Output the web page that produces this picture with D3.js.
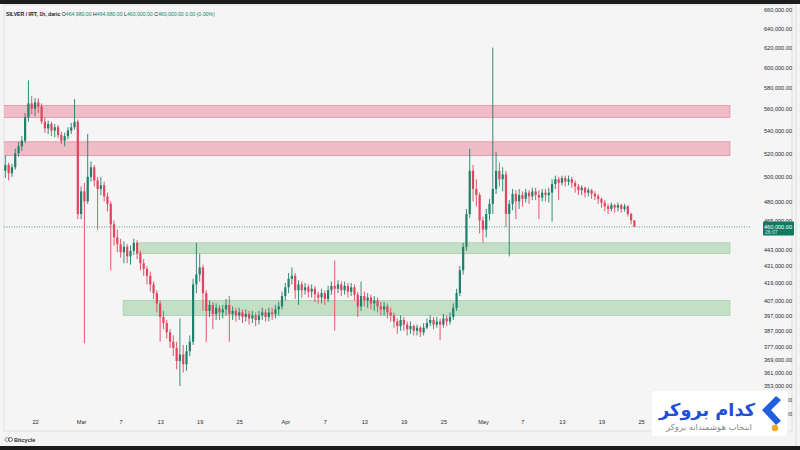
<!DOCTYPE html>
<html>
<head>
<meta charset="utf-8">
<script src="https://cdn.jsdelivr.net/npm/d3@7"></script>
<style>
  html, body { margin: 0; padding: 0; background: #f4f4f4; }
  svg { display: block; font-family: "Liberation Sans", Arial, sans-serif; }
</style>
</head>
<body>
<div id="chart"></div>
<script>
// SILVER / IRT, 12h candles, prices in thousands of IRT
const startDate = new Date(2025, 1, 17, 12);
const stepHours = 12;

const opens = [
  505,510,503,508,520,526,531,552,565,560, 566,562,548,542,546,540,543,536,531,535,
  540,543,548,470,488,480,500,508,497,490, 493,484,478,462,452,447,441,445,438,442,
  448,440,433,429,424,418,412,405,396,392, 386,380,376,368,372,366,374,380,418,425,
  430,412,400,404,398,402,399,401,404,398, 400,397,399,396,398,395,397,394,397,399,
  396,399,398,401,403,410,416,422,424,414, 418,414,416,413,415,411,409,412,408,414,
  417,415,418,414,417,413,416,411,403,410, 407,409,405,407,403,401,403,399,397,393,
  390,394,391,388,390,387,389,386,389,392, 394,391,393,391,395,393,396,402,412,428,
  445,470,505,490,485,465,458,470,478,490, 505,498,502,470,478,486,480,485,482,487,
  484,488,485,483,487,485,487,494,498,495, 499,496,498,495,492,489,491,487,489,486,
  484,482,479,476,474,477,475,477,474,476, 470,464.98
];
const highs = [
  518,512,511,524,530,535,556,587,572,570, 570,565,552,549,548,546,545,539,538,543,
  547,569,550,492,495,537,513,510,500,500, 496,487,480,465,458,451,449,447,446,451,
  450,442,436,431,427,420,414,407,400,394, 388,384,380,395,378,378,384,422,448,440,
  432,414,407,406,405,404,404,408,410,403, 402,402,401,401,400,400,399,400,402,401,
  402,402,404,406,413,419,426,430,426,421, 420,419,418,418,417,413,415,414,417,420,
  435,421,420,420,419,419,418,413,420,413, 412,411,410,409,406,406,405,402,399,395,
  397,396,393,393,391,391,390,392,395,397, 396,396,395,398,397,399,405,415,431,448,
  474,524,510,498,487,468,474,482,620,521, 512,508,505,481,490,489,490,488,490,489,
  491,491,489,490,490,491,498,501,500,501, 501,501,500,497,494,493,492,491,490,488,
  486,483,481,478,479,478,479,478,478,477, 471,464.98
];
const lows = [
  499,497,500,506,517,522,529,548,555,553, 556,546,538,537,535,534,533,528,526,532,
  537,541,466,466,379,478,496,492,458,485, 480,472,428,446,441,437,433,433,432,439,
  436,428,424,418,413,408,399,380,388,382, 376,371,363,353,361,362,371,378,412,420,
  400,380,396,388,394,394,395,397,380,394, 393,394,392,393,391,392,390,391,394,393,
  393,394,395,397,401,407,412,418,408,404, 409,411,409,409,406,405,405,404,406,411,
  387,412,410,411,409,410,407,396,400,403, 402,401,400,399,397,397,395,393,389,385,
  387,387,384,385,384,384,383,384,388,390, 388,389,381,389,390,391,394,400,410,425,
  442,467,480,476,455,448,452,465,470,486, 492,488,460,438,473,466,474,476,479,478,
  481,481,466,480,480,479,464,490,481,493, 492,493,491,487,485,485,483,484,482,481,
  478,475,472,470,472,471,472,471,472,468, 462,460
];
const closes = [
  510,503,508,520,526,531,552,565,560,566, 562,548,542,546,540,543,536,531,535,540,
  543,548,470,488,480,500,508,497,490,493, 484,478,462,452,447,441,445,438,442,448,
  440,433,429,424,418,412,405,396,392,386, 380,376,368,372,366,374,380,418,425,430,
  412,400,404,398,402,399,401,404,398,400, 397,399,396,398,395,397,394,397,399,396,
  399,398,401,403,410,416,422,424,414,418, 414,416,413,415,411,409,412,408,414,417,
  415,418,414,417,413,416,411,403,410,407, 409,405,407,403,401,403,399,397,393,390,
  394,391,388,390,387,389,386,389,392,394, 391,393,391,395,393,396,402,412,428,445,
  470,505,490,485,465,458,470,478,490,505, 498,502,470,478,486,480,485,482,487,484,
  488,485,483,487,485,487,494,498,495,499, 496,498,495,492,489,491,487,489,486,484,
  482,479,476,474,477,475,477,474,476,470, 465,460
];

// support / resistance zones (thousands)
const zoneLow   = [552, 518, 440, 397];
const zoneHigh  = [563, 530, 448, 407];
const zoneStart = [new Date(2025,1,16), new Date(2025,1,16), new Date(2025,2,9,12), new Date(2025,2,7,9)];
const zoneEnd   = new Date(2025,5,7,12);
const zoneKind  = ["res", "res", "sup", "sup"];

const priceTicks = [660,640,620,600,580,560,540,520,500,480,465,443,431,419,407,397,387,377,369,361,353,345,337];
const dateTicks = [
  new Date(2025,1,22), new Date(2025,2,1), new Date(2025,2,7), new Date(2025,2,13), new Date(2025,2,19),
  new Date(2025,2,25), new Date(2025,3,1), new Date(2025,3,7), new Date(2025,3,13), new Date(2025,3,19),
  new Date(2025,3,25), new Date(2025,4,1), new Date(2025,4,7), new Date(2025,4,13), new Date(2025,4,19),
  new Date(2025,4,25)
];
const lastPrice = 460;

const width = 800, height = 450;
const pane = {left: 4, right: 750, top: 5, bottom: 431};
const upColor = "#1f806b", downColor = "#e4445e";

const candles = closes.map(function(c, i) {
  return {
    date: new Date(startDate.getTime() + i * stepHours * 3600 * 1000),
    o: opens[i] * 1000, h: highs[i] * 1000, l: lows[i] * 1000, c: c * 1000
  };
});

// shrink a text so it spans a given width
function fitText(sel, target) {
  const len = sel.node().getComputedTextLength();
  const fs = parseFloat(sel.attr("font-size"));
  if (len > 0) sel.attr("font-size", fs * target / len);
}

const svg = d3.select("#chart").append("svg")
  .attr("width", width).attr("height", height);

// frame
svg.append("rect").attr("x", 0).attr("y", 0).attr("width", width).attr("height", height).attr("fill", "#f4f4f4");
svg.append("rect").attr("x", 0).attr("y", 0).attr("width", width).attr("height", 4).attr("fill", "#1c1c1c");
svg.append("rect").attr("x", 0).attr("y", 446).attr("width", width).attr("height", 4).attr("fill", "#1c1c1c");
svg.append("rect")
  .attr("x", pane.left).attr("y", pane.top)
  .attr("width", 792 - pane.left).attr("height", pane.bottom - pane.top)
  .attr("fill", "#f5f5f5").attr("stroke", "#dcdcdc").attr("stroke-width", 0.8);
svg.append("line").attr("x1", 796).attr("x2", 796).attr("y1", 4).attr("y2", 446)
  .attr("stroke", "#d8d8d8").attr("stroke-width", 0.8);

// scales
const x = d3.scaleTime()
  .domain([new Date(2025,1,22), new Date(2025,4,25)])
  .range([35, 641]);

const y = d3.scaleLog()
  .domain([353000, 660000])
  .range([386, 10]);

svg.append("clipPath").attr("id", "clip")
  .append("rect").attr("x", pane.left).attr("y", pane.top)
  .attr("width", pane.right - pane.left).attr("height", pane.bottom - pane.top);

const plot = svg.append("g").attr("clip-path", "url(#clip)");

// zones
zoneLow.forEach(function(lo, i) {
  const res = zoneKind[i] === "res";
  plot.append("rect")
    .attr("x", x(zoneStart[i]))
    .attr("y", y(zoneHigh[i] * 1000))
    .attr("width", x(zoneEnd) - x(zoneStart[i]))
    .attr("height", y(lo * 1000) - y(zoneHigh[i] * 1000))
    .attr("fill", res ? "#efbcc8" : "#c3dfc5")
    .attr("stroke", res ? "#de8fa2" : "#a8cfac")
    .attr("stroke-width", 0.8);
});

// last price line
plot.append("line")
  .attr("x1", pane.left).attr("x2", pane.right + 14)
  .attr("y1", y(lastPrice * 1000)).attr("y2", y(lastPrice * 1000))
  .attr("stroke", "#1b8a72").attr("stroke-width", 0.8)
  .attr("stroke-dasharray", "1,1.5");

// candles
const cg = plot.selectAll(".candle").data(candles).enter().append("g").attr("class", "candle");

cg.append("line")
  .attr("x1", function(d) { return x(d.date); })
  .attr("x2", function(d) { return x(d.date); })
  .attr("y1", function(d) { return y(d.h); })
  .attr("y2", function(d) { return y(d.l); })
  .attr("stroke", function(d) { return d.c >= d.o ? upColor : downColor; })
  .attr("stroke-width", 0.9);

cg.append("rect")
  .attr("x", function(d) { return x(d.date) - 1.1; })
  .attr("width", 2.2)
  .attr("y", function(d) { return y(Math.max(d.o, d.c)); })
  .attr("height", function(d) { return Math.max(0.8, Math.abs(y(d.o) - y(d.c))); })
  .attr("fill", function(d) { return d.c >= d.o ? upColor : downColor; });

// price axis
const yAxis = svg.append("g")
  .attr("transform", "translate(792,0)")
  .call(d3.axisRight(y).tickValues(priceTicks.map(function(v) { return v * 1000; }))
    .tickSize(0).tickFormat(d3.format(",.2f")));
yAxis.select(".domain").remove();
yAxis.selectAll("text")
  .attr("x", 0).attr("text-anchor", "end")
  .attr("font-size", 5.6).attr("fill", "#2a2a2a")
  .attr("font-family", "Liberation Sans, Arial, sans-serif");

// time axis
const monthNames = ["Jan","Feb","Mar","Apr","May","Jun"];
const xAxis = svg.append("g")
  .attr("transform", "translate(0,421)")
  .call(d3.axisBottom(x).tickValues(dateTicks).tickSize(0)
    .tickFormat(function(d) { return d.getDate() === 1 ? monthNames[d.getMonth()] : d.getDate(); }));
xAxis.select(".domain").remove();
xAxis.selectAll("text")
  .attr("font-size", 5.6).attr("fill", "#2a2a2a").attr("dy", 0)
  .attr("font-family", "Liberation Sans, Arial, sans-serif");

// last price tag
const tagY = y(lastPrice * 1000);
svg.append("rect").attr("x", 763).attr("y", tagY - 5.5).attr("width", 31).attr("height", 14)
  .attr("fill", "#0f7a62").attr("rx", 1);
svg.append("text").attr("x", 792).attr("y", tagY + 2).attr("text-anchor", "end")
  .attr("font-size", 5.6).attr("fill", "#ffffff").text(d3.format(",.2f")(lastPrice * 1000));
svg.append("text").attr("x", 765).attr("y", tagY + 7.5)
  .attr("font-size", 5).attr("fill", "#cfe9e2").text("26:07");

// header legend
const head = svg.append("text").attr("x", 6).attr("y", 16)
  .attr("font-size", 6).attr("fill", "#222");
head.append("tspan").attr("font-weight", "bold").text("SILVER / IRT, 1h, daric  ");
const ohlc = [["O", opens[opens.length - 1]], ["H", highs[highs.length - 1]], ["L", lows[lows.length - 1]], ["C", closes[closes.length - 1]]];
ohlc.forEach(function(p) {
  head.append("tspan").attr("fill", "#222").text(p[0]);
  head.append("tspan").attr("fill", "#10896f").text(d3.format(",.2f")(p[1] * 1000) + " ");
});
head.append("tspan").attr("fill", "#10896f").text("0.00 (0.00%)");
fitText(head, 209);

// footer mark
svg.append("circle").attr("cx", 7).attr("cy", 439.5).attr("r", 2).attr("fill", "none")
  .attr("stroke", "#777").attr("stroke-width", 0.7);
svg.append("circle").attr("cx", 10.5).attr("cy", 439.5).attr("r", 2).attr("fill", "none")
  .attr("stroke", "#2a2a2a").attr("stroke-width", 0.7);
svg.append("text").attr("x", 14).attr("y", 441.5).attr("font-size", 5.6)
  .attr("font-weight", "bold").attr("fill", "#333").text("Bitcycle");

// watermark badge
const badge = svg.append("g");
badge.append("rect").attr("x", 651).attr("y", 390).attr("width", 137).attr("height", 47)
  .attr("rx", 4).attr("fill", "#ffffff").attr("stroke", "#e6e6e6").attr("stroke-width", 0.6);
badge.append("path")
  .attr("d", "M776,396 L762,410 L776,425 L781,421 L771,410 L781,400 Z")
  .attr("fill", "#1f5fe0");
badge.append("circle").attr("cx", 775).attr("cy", 428).attr("r", 3.2).attr("fill", "#f5a623");
const brand = badge.append("text").attr("x", 755).attr("y", 416).attr("text-anchor", "end")
  .attr("font-family", "DejaVu Sans, sans-serif").attr("font-weight", "bold")
  .attr("font-size", 18).attr("fill", "#1f4fd8")
  .text("کدام بروکر");
fitText(brand, 96);
const slogan = badge.append("text").attr("x", 752).attr("y", 430).attr("text-anchor", "end")
  .attr("font-family", "DejaVu Sans, sans-serif")
  .attr("font-size", 8).attr("fill", "#8a8a8a")
  .text("انتخاب هوشمندانه بروکر");
fitText(slogan, 86);
</script>
</body>
</html>
